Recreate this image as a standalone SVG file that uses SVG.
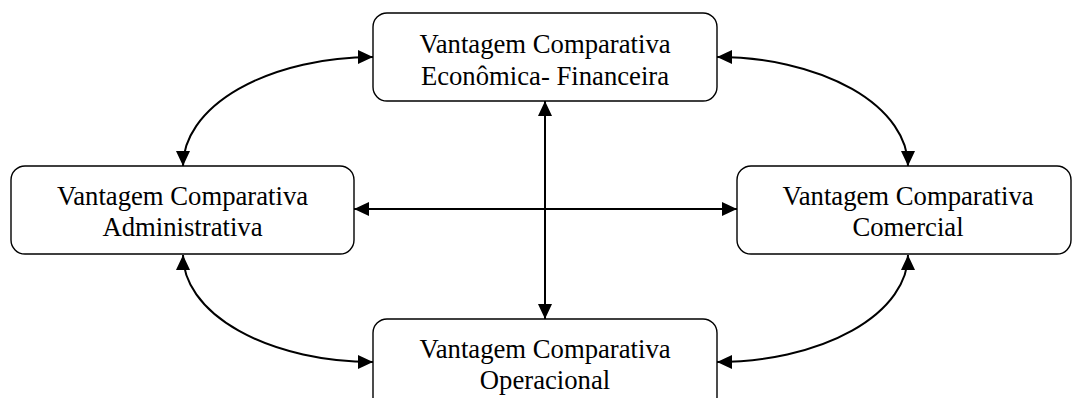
<svg xmlns="http://www.w3.org/2000/svg" width="1073" height="398" viewBox="0 0 1073 398">
<style>
.box{fill:#fff;stroke:#000;stroke-width:1.4}
.lbl{font-family:"Liberation Serif","Times New Roman",serif;font-size:26.7px;fill:#000;text-anchor:middle}
.con{fill:none;stroke:#000;stroke-width:2}
</style>
<defs>
<marker id="ah" markerUnits="userSpaceOnUse" markerWidth="16" markerHeight="15" refX="15" refY="7" orient="auto-start-reverse">
<path d="M0,0 L15,7 L0,14 z" fill="#000"/>
</marker>
</defs>
<rect width="1073" height="398" fill="#fff"/>
<g id="connectors">
<line class="con" x1="545" y1="101" x2="545" y2="319" marker-start="url(#ah)" marker-end="url(#ah)"/>
<line class="con" x1="354" y1="209" x2="737" y2="209" marker-start="url(#ah)" marker-end="url(#ah)"/>
<path class="con" d="M373,57 A190,109 0 0 0 183,166" marker-start="url(#ah)" marker-end="url(#ah)"/>
<path class="con" d="M717,57 A191,109 0 0 1 908,166" marker-start="url(#ah)" marker-end="url(#ah)"/>
<path class="con" d="M183,255 A190,107 0 0 0 373,362" marker-start="url(#ah)" marker-end="url(#ah)"/>
<path class="con" d="M908,255 A191,107 0 0 1 717,362" marker-start="url(#ah)" marker-end="url(#ah)"/>
</g>
<g id="node-top">
<rect class="box" x="373" y="13" width="344" height="88" rx="14"/>
<text class="lbl" x="545" y="53">Vantagem Comparativa</text>
<text class="lbl" x="545" y="85">Econômica- Financeira</text>
</g>
<g id="node-left">
<rect class="box" x="11" y="166" width="343" height="88" rx="14"/>
<text class="lbl" x="182.5" y="205">Vantagem Comparativa</text>
<text class="lbl" x="182.5" y="236">Administrativa</text>
</g>
<g id="node-right">
<rect class="box" x="737" y="166" width="334" height="88" rx="14"/>
<text class="lbl" x="908" y="205">Vantagem Comparativa</text>
<text class="lbl" x="908" y="236">Comercial</text>
</g>
<g id="node-bottom">
<rect class="box" x="373" y="319" width="344" height="92" rx="14"/>
<text class="lbl" x="545" y="358">Vantagem Comparativa</text>
<text class="lbl" x="545" y="389">Operacional</text>
</g>
</svg>
